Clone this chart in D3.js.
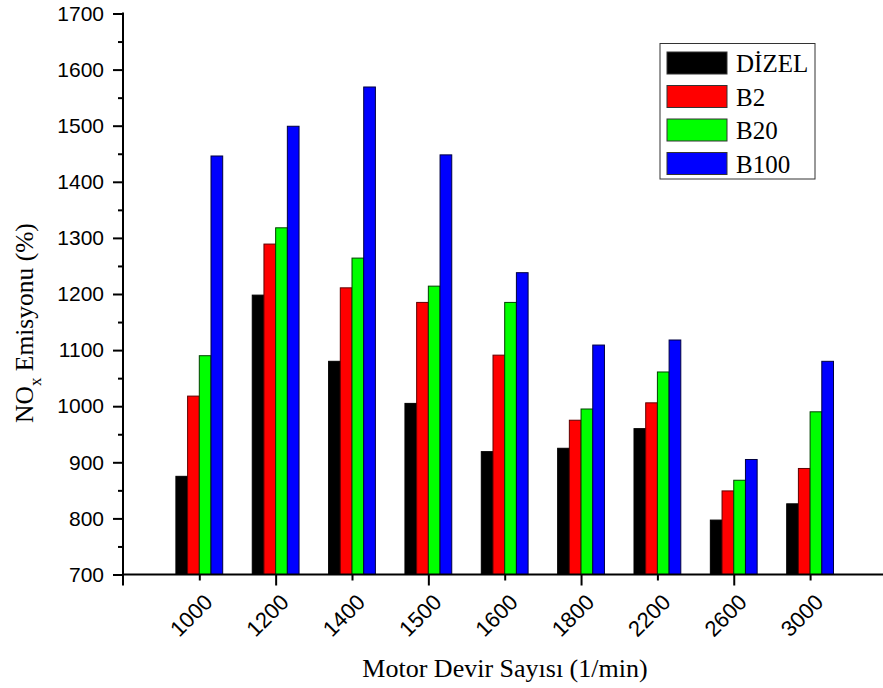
<!DOCTYPE html>
<html>
<head>
<meta charset="utf-8">
<script src="https://cdn.jsdelivr.net/npm/d3@7"></script>
<style>
  body { margin: 0; background: #fff; }
  svg { display: block; }
</style>
</head>
<body>
<div id="chart"></div>
<script>
// motor speeds (1/min)
const speeds = ["1000", "1200", "1400", "1500", "1600", "1800", "2200", "2600", "3000"];
const seriesNames = ["DİZEL", "B2", "B20", "B100"];
const seriesColors = ["#000000", "#ff0000", "#00ff00", "#0000ff"];
const seriesStrokes = ["#000000", "#600000", "#004000", "#000040"];

const dizel = [875, 1198, 1080, 1005, 919, 925, 960, 797, 826];
const b2    = [1018, 1289, 1211, 1185, 1091, 975, 1006, 849, 889];
const b20   = [1090, 1318, 1264, 1214, 1185, 995, 1061, 868, 990];
const b100  = [1446, 1499, 1569, 1448, 1238, 1109, 1118, 905, 1080];

const yMajor = [700, 800, 900, 1000, 1100, 1200, 1300, 1400, 1500, 1600, 1700];
const yMinor = [750, 850, 950, 1050, 1150, 1250, 1350, 1450, 1550, 1650];

const width = 883, height = 688;
const plotLeft = 123, plotRight = 883, plotTop = 13.5, plotBottom = 574.5;

const svg = d3.select("#chart").append("svg")
    .attr("width", width)
    .attr("height", height);

const x = d3.scalePoint()
    .domain(speeds)
    .range([199.3, 810.1]);

const y = d3.scaleLinear()
    .domain([700, 1700])
    .range([plotBottom, plotTop]);

const barW = 11.7;
const allSeries = [dizel, b2, b20, b100];

// bars
allSeries.forEach((vals, si) => {
    svg.append("g")
        .selectAll("rect")
        .data(vals)
        .join("rect")
        .attr("x", (d, i) => x(speeds[i]) + (si - 2) * barW)
        .attr("y", d => y(d))
        .attr("width", barW)
        .attr("height", d => plotBottom - y(d))
        .attr("fill", seriesColors[si])
        .attr("stroke", seriesStrokes[si])
        .attr("stroke-width", 1);
});

// y axis
const yAxis = svg.append("g")
    .attr("transform", `translate(${plotLeft},0)`)
    .call(d3.axisLeft(y).tickValues(yMajor).tickSize(10).tickPadding(9).tickFormat(d3.format("d")));
yAxis.select(".domain").remove();
yAxis.selectAll(".tick line").attr("stroke-width", 2);
yAxis.selectAll("text")
    .style("font-family", "'Liberation Sans', Arial, sans-serif")
    .style("font-size", "21px")
    .attr("fill", "#000");

const yMinorAxis = svg.append("g")
    .attr("transform", `translate(${plotLeft},0)`)
    .call(d3.axisLeft(y).tickValues(yMinor).tickSize(5).tickFormat(""));
yMinorAxis.select(".domain").remove();
yMinorAxis.selectAll(".tick line").attr("stroke-width", 2);

svg.append("line")
    .attr("x1", plotLeft).attr("x2", plotLeft)
    .attr("y1", plotTop - 1).attr("y2", plotBottom + 11)
    .attr("stroke", "#000").attr("stroke-width", 2);

// x axis
const xAxis = svg.append("g")
    .attr("transform", `translate(0,${plotBottom})`)
    .call(d3.axisBottom(x).tickSize(10).tickPadding(0));
xAxis.select(".domain").remove();
xAxis.selectAll(".tick line")
    .attr("stroke-width", 2)
    .attr("y2", (d, i) => i % 2 === 0 ? 6 : 11);
xAxis.selectAll("text")
    .style("font-family", "'Liberation Sans', Arial, sans-serif")
    .style("font-size", "22px")
    .attr("fill", "#000")
    .attr("text-anchor", "end")
    .attr("y", 0)
    .attr("dy", "0")
    .attr("transform", "translate(14,29) rotate(-45)");

svg.append("line")
    .attr("x1", plotLeft).attr("x2", plotRight)
    .attr("y1", plotBottom).attr("y2", plotBottom)
    .attr("stroke", "#000").attr("stroke-width", 2);

// axis titles
const yTitle = svg.append("text")
    .attr("transform", "translate(33,323) rotate(-90)")
    .attr("text-anchor", "middle")
    .style("font-family", "'Liberation Serif', 'Times New Roman', serif")
    .style("font-size", "25.5px")
    .attr("fill", "#000");
yTitle.append("tspan").text("NO");
yTitle.append("tspan").text("x").attr("dy", 8).style("font-size", "17px");
yTitle.append("tspan").text(" Emisyonu (%)").attr("dy", -8);

svg.append("text")
    .attr("x", 505)
    .attr("y", 677)
    .attr("text-anchor", "middle")
    .style("font-family", "'Liberation Serif', 'Times New Roman', serif")
    .style("font-size", "26px")
    .attr("fill", "#000")
    .text("Motor Devir Sayısı (1/min)");

// legend
const legend = svg.append("g");
legend.append("rect")
    .attr("x", 660).attr("y", 43.5)
    .attr("width", 155).attr("height", 135.5)
    .attr("fill", "#fff")
    .attr("stroke", "#333")
    .attr("stroke-width", 1);

const item = legend.selectAll("g.item")
    .data(seriesNames)
    .join("g")
    .attr("class", "item")
    .attr("transform", (d, i) => `translate(667,${52 + i * 33.5})`);
item.append("rect")
    .attr("width", 60).attr("height", 22)
    .attr("fill", (d, i) => seriesColors[i])
    .attr("stroke", "#333")
    .attr("stroke-width", 1);
item.append("text")
    .attr("x", 69)
    .attr("y", 20)
    .style("font-family", "'Liberation Serif', 'Times New Roman', serif")
    .style("font-size", "25px")
    .attr("fill", "#000")
    .text(d => d);
</script>
</body>
</html>
